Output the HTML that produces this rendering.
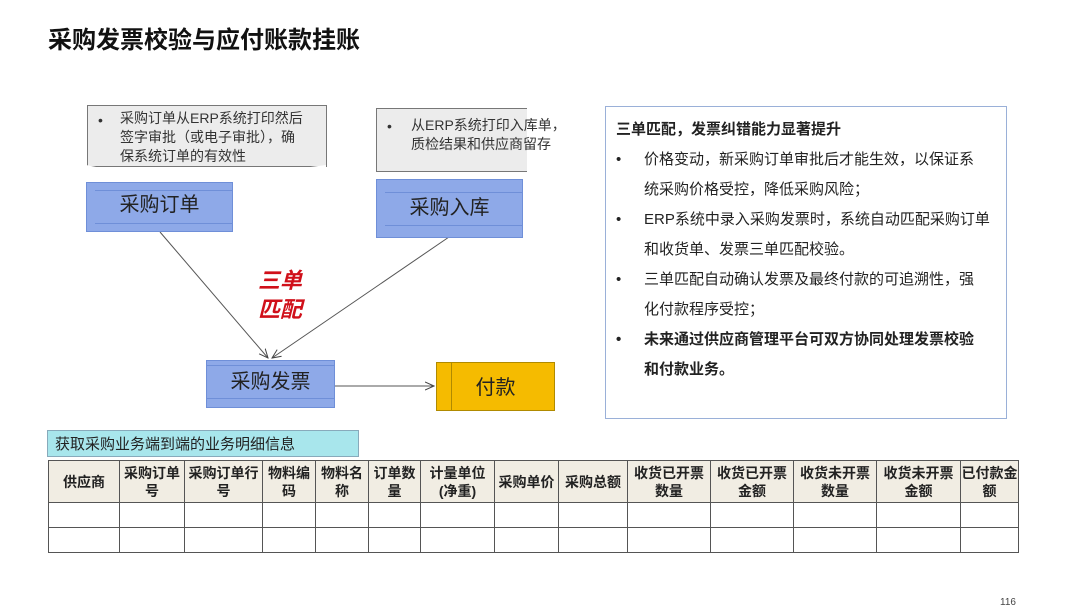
<!DOCTYPE html><html><head><meta charset="utf-8"><style>
body{margin:0;width:1080px;height:613px;background:#fff;position:relative;overflow:hidden;font-family:"Liberation Sans","Noto Sans CJK SC",sans-serif;color:#222}
.a{position:absolute}
.title{left:48px;top:20px;font-size:24px;font-weight:bold;color:#111}
.note{background:#ececec;border:1px solid #777;font-size:14px;line-height:19px;color:#333;white-space:nowrap}
.node{background:#8ea9e8;border:1px solid #6f8fd8;font-size:20px;color:#222;text-align:center}
.node .in{position:absolute;border-top:1px solid #6f8fd8;border-bottom:1px solid #6f8fd8;left:8px;right:0}
table{border-collapse:collapse;font-size:14px;font-weight:bold}
td{border:1px solid #555;text-align:center;line-height:18px;padding:0}
.hd td{background:#f1ede3;height:41px}
.rw td{height:24px}
.rp{border:1px solid #9ab0d8;font-size:15px;line-height:30px;color:#222;white-space:nowrap}
</style></head><body>
<div class="a title">采购发票校验与应付账款挂账</div>

<div class="a note" style="left:87px;top:105px;width:238px;height:60px">
<div class="a" style="left:10px;top:5px">•</div><div class="a" style="left:32px;top:3px">采购订单从ERP系统打印然后<br>签字审批（或电子审批），确<br>保系统订单的有效性</div></div>
<div class="a note" style="left:376px;top:108px;width:150px;height:62px;border-right:none">
<div class="a" style="left:10px;top:8px">•</div><div class="a" style="left:34px;top:7px">从ERP系统打印入库单，<br>质检结果和供应商留存</div></div>
<svg class="a" style="left:0;top:0" width="1080" height="613">
<path d="M86 165 Q180 185 326 165 L326 180 L86 180Z" fill="#fff"/>
<defs><marker id="m" markerWidth="10" markerHeight="10" refX="9" refY="5" orient="auto"><path d="M0 1L9 5L0 9" fill="none" stroke="#444"/></marker></defs>
<line x1="160" y1="232" x2="268" y2="358" stroke="#555" marker-end="url(#m)"/>
<line x1="449" y1="237" x2="272" y2="358" stroke="#555" marker-end="url(#m)"/>
<line x1="334" y1="386" x2="434" y2="386" stroke="#555" marker-end="url(#m)"/>
</svg>
<div class="a node" style="left:86px;top:182px;width:145px;height:48px;line-height:44px"><div class="in" style="top:7px;height:32px"></div><span style="position:relative">采购订单</span></div>
<div class="a node" style="left:376px;top:179px;width:145px;height:57px;line-height:57px"><div class="in" style="top:12px;height:32px"></div><span style="position:relative">采购入库</span></div>
<div class="a node" style="left:206px;top:360px;width:127px;height:46px;line-height:42px"><div class="in" style="top:4px;height:32px;left:0"></div><span style="position:relative">采购发票</span></div>
<div class="a" style="left:436px;top:362px;width:117px;height:47px;background:#f5bb00;border:1px solid #b08a00;font-size:20px;text-align:center;line-height:50px"><div class="a" style="left:14px;top:0;bottom:0;border-left:1px solid #b08a00"></div>付款</div>
<div class="a" style="left:258px;top:266px;font-size:22px;font-weight:bold;font-style:italic;color:#d0101a;line-height:29px">三单<br>匹配</div>

<div class="a rp" style="left:605px;top:106px;width:400px;height:311px">
<div class="a" style="left:10px;top:8px;font-weight:bold">三单匹配，发票纠错能力显著提升</div>
<div class="a" style="left:10px;top:38px">
<div style="position:relative;padding-left:28px"><span class="a" style="left:0">•</span>价格变动，新采购订单审批后才能生效，以保证系<br>统采购价格受控，降低采购风险；</div>
<div style="position:relative;padding-left:28px"><span class="a" style="left:0">•</span>ERP系统中录入采购发票时，系统自动匹配采购订单<br>和收货单、发票三单匹配校验。</div>
<div style="position:relative;padding-left:28px"><span class="a" style="left:0">•</span>三单匹配自动确认发票及最终付款的可追溯性，强<br>化付款程序受控；</div>
<div style="position:relative;padding-left:28px;font-weight:bold"><span class="a" style="left:0">•</span>未来通过供应商管理平台可双方协同处理发票校验<br>和付款业务。</div>
</div></div>

<div class="a" style="left:47px;top:430px;width:312px;height:27px;background:#a8e6ec;border:1px solid #8ab;font-size:15px;line-height:27px;padding-left:7px;box-sizing:border-box">获取采购业务端到端的业务明细信息</div>
<table class="a" style="left:48px;top:460px;width:971px">
<tr class="hd"><td style="width:70px">供应商</td><td style="width:64px">采购订单<br>号</td><td style="width:77px">采购订单行<br>号</td><td style="width:52px">物料编<br>码</td><td style="width:52px">物料名<br>称</td><td style="width:51px">订单数<br>量</td><td style="width:73px">计量单位<br>(净重)</td><td style="width:63px">采购单价</td><td style="width:68px">采购总额</td><td style="width:82px">收货已开票<br>数量</td><td style="width:82px">收货已开票<br>金额</td><td style="width:82px">收货未开票<br>数量</td><td style="width:83px">收货未开票<br>金额</td><td>已付款金<br>额</td></tr>
<tr class="rw"><td></td><td></td><td></td><td></td><td></td><td></td><td></td><td></td><td></td><td></td><td></td><td></td><td></td><td></td></tr>
<tr class="rw"><td></td><td></td><td></td><td></td><td></td><td></td><td></td><td></td><td></td><td></td><td></td><td></td><td></td><td></td></tr>
</table>
<div class="a" style="left:1000px;top:597px;font-size:10px;color:#444">116</div>
</body></html>
